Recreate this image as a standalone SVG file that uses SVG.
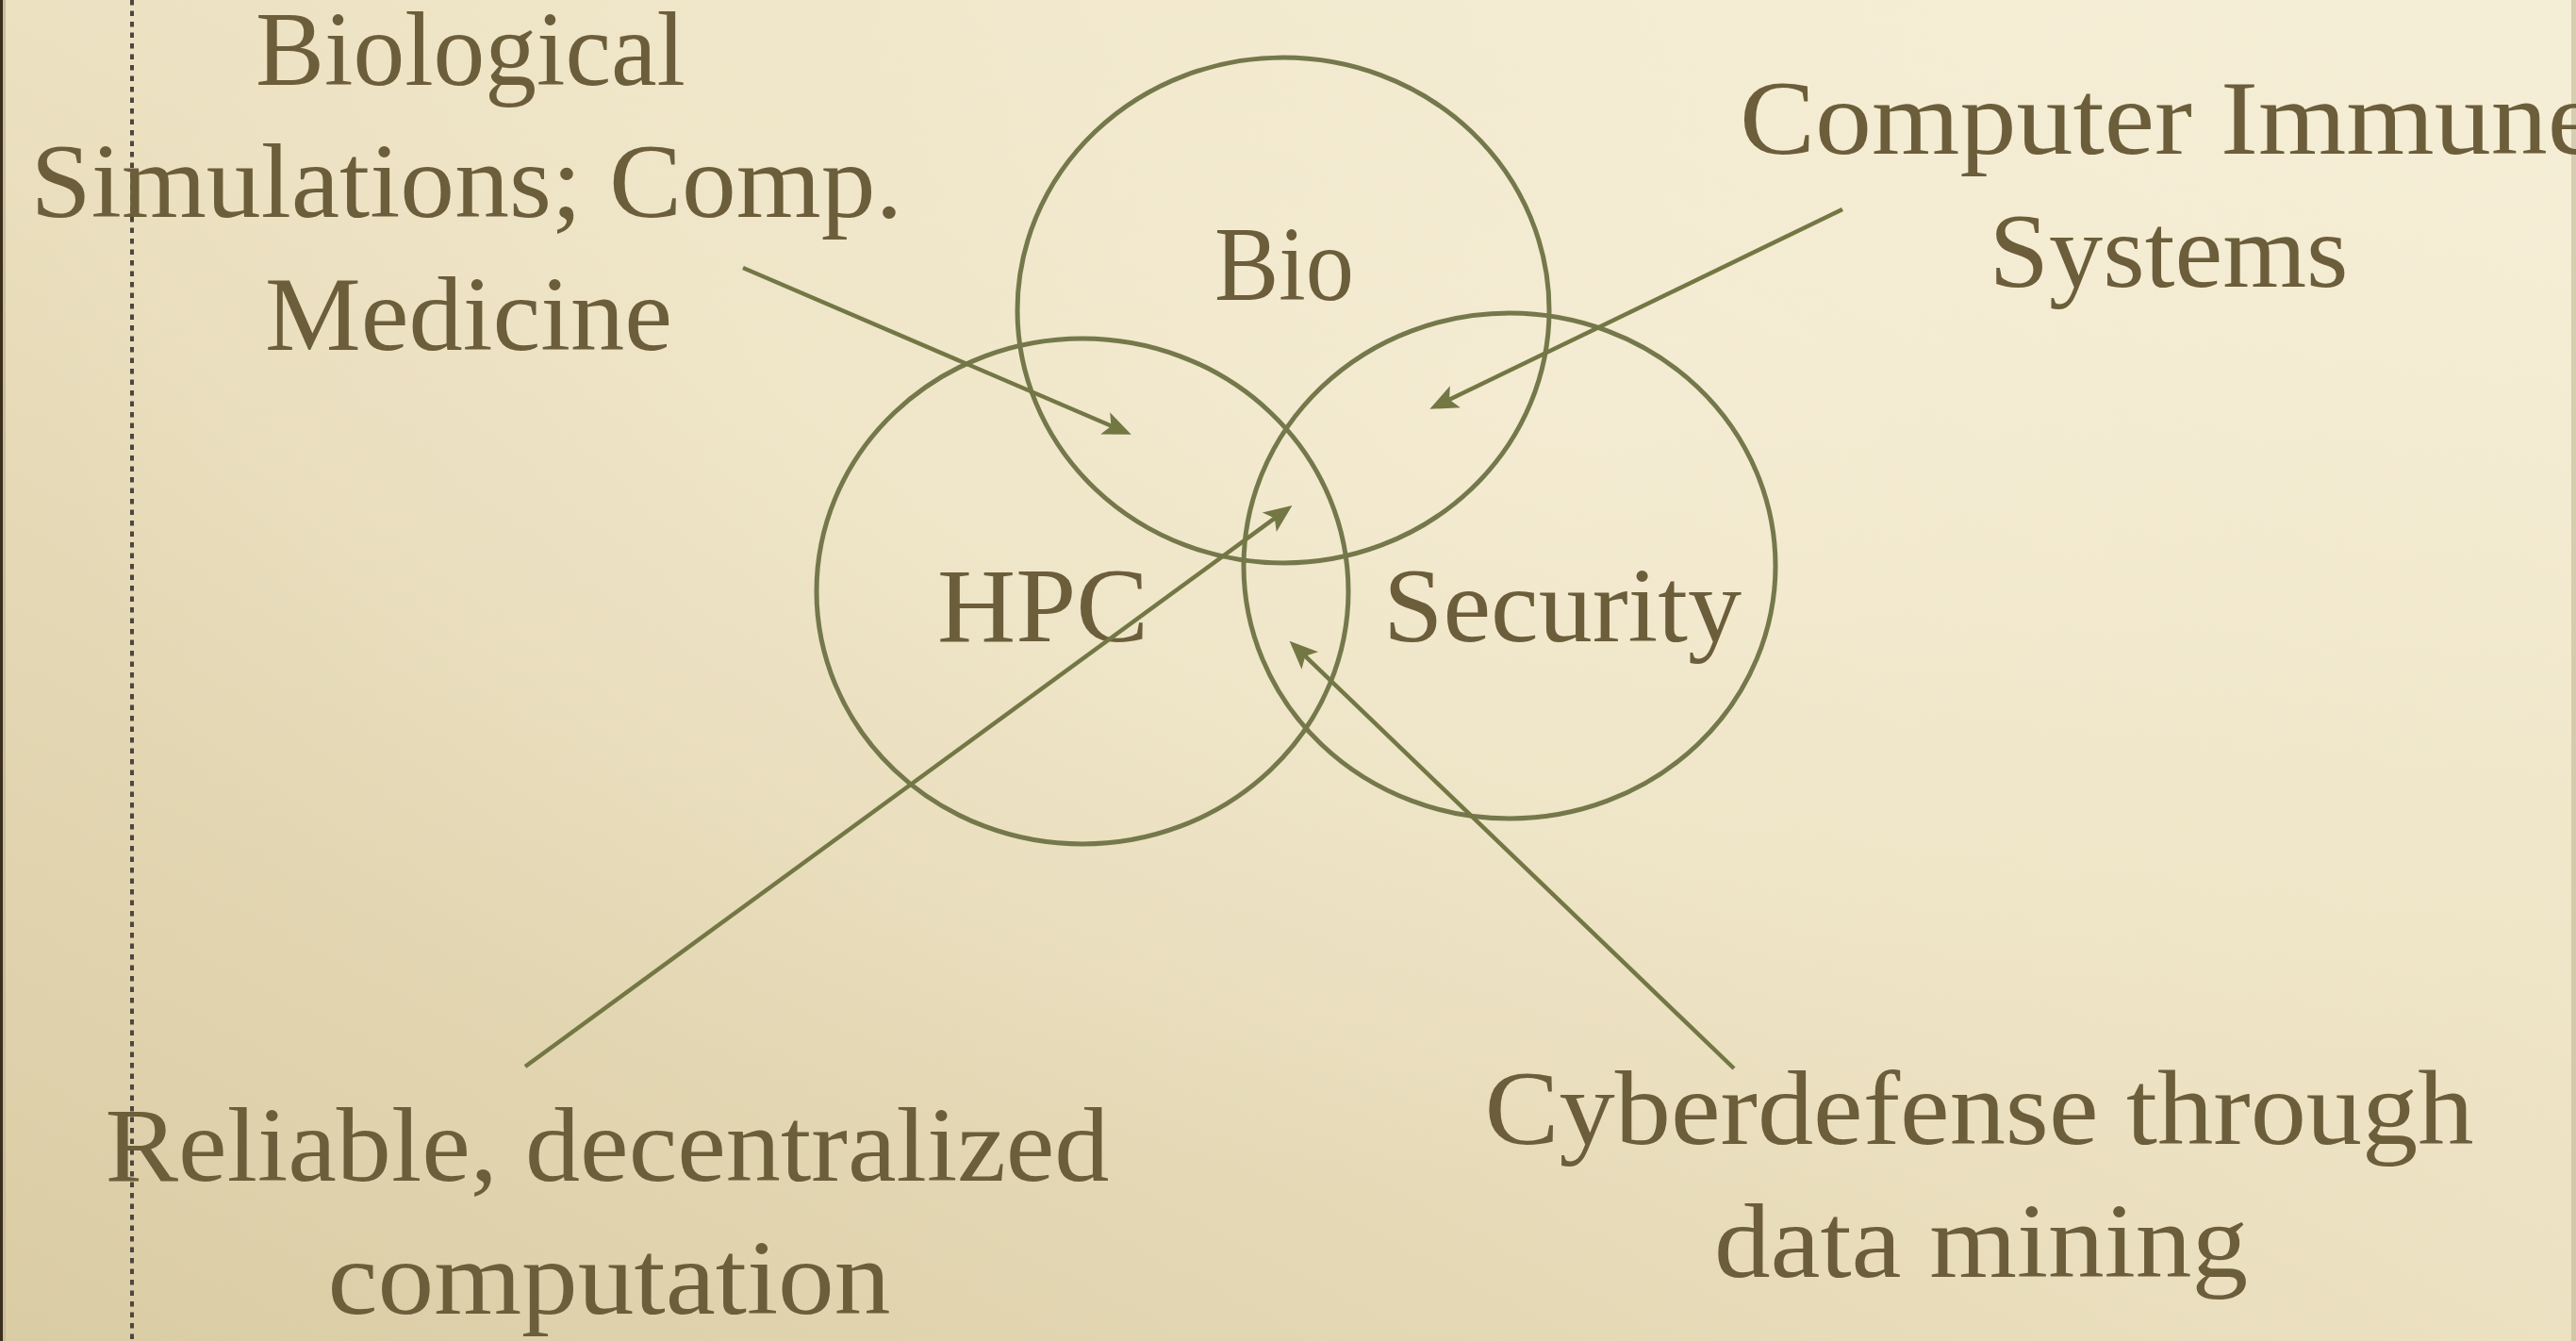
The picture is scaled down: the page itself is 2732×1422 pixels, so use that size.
<svg xmlns="http://www.w3.org/2000/svg" width="2732" height="1422" viewBox="0 0 2732 1422">
  <defs>
    <!-- parchment background: light at the top right, deeper towards the bottom left -->
    <linearGradient id="paper" x1="1" y1="0" x2="0" y2="1">
      <stop offset="0" stop-color="#f5eed6"/>
      <stop offset="0.5" stop-color="#ece1c1"/>
      <stop offset="1" stop-color="#dacca4"/>
    </linearGradient>
    <radialGradient id="glow" cx="0.6" cy="0.3" r="0.6">
      <stop offset="0" stop-color="#fbf5e2" stop-opacity="0.4"/>
      <stop offset="1" stop-color="#fbf5e2" stop-opacity="0"/>
    </radialGradient>
    <!-- notched arrowhead; its tip sits 12 units past the line end -->
    <marker id="head" markerUnits="userSpaceOnUse" markerWidth="40" markerHeight="30"
            viewBox="-16 -13 30 26" refX="0" refY="0" orient="auto" overflow="visible">
      <path d="M12,0 L-14,-11 L-8,0 L-14,11 Z" fill="#737744"/>
    </marker>
  </defs>
  <style>
    .ring { fill: none; stroke: #74784a; stroke-width: 5; }
    .link { fill: none; stroke: #737744; stroke-width: 4.5; marker-end: url(#head); }
    .label { font-family: "Liberation Serif", "Times New Roman", serif; font-size: 112px; fill: #6c5e3b; text-anchor: middle; }
  </style>

  <!-- page -->
  <rect x="0" y="0" width="2732" height="1422" fill="url(#paper)"/>
  <rect x="0" y="0" width="2732" height="1422" fill="url(#glow)"/>
  <rect x="0" y="0" width="3" height="1422" fill="#3a2e1c"/>
  <rect x="3" y="0" width="3" height="1422" fill="#c9bd9c"/>
  <rect x="2727" y="0" width="5" height="1422" fill="#b9ad8b" opacity="0.5"/>
  <line x1="140" y1="0" x2="140" y2="1422" stroke="#4d463f" stroke-width="4" stroke-dasharray="5.5 6"/>

  <!-- three overlapping sets -->
  <g id="bio">
    <ellipse class="ring" cx="1361" cy="329" rx="282" ry="268"/>
    <text class="label" x="1362" y="318" textLength="148" lengthAdjust="spacingAndGlyphs">Bio</text>
  </g>
  <g id="hpc">
    <ellipse class="ring" cx="1148" cy="627" rx="282" ry="268"/>
    <text class="label" x="1106" y="680" textLength="224" lengthAdjust="spacingAndGlyphs">HPC</text>
  </g>
  <g id="security">
    <ellipse class="ring" cx="1601" cy="600" rx="282" ry="268"/>
    <text class="label" x="1657" y="680" textLength="380" lengthAdjust="spacingAndGlyphs">Security</text>
  </g>

  <!-- callout labels -->
  <g id="bio-sim">
    <text class="label" x="499" y="90" textLength="456" lengthAdjust="spacingAndGlyphs">Biological</text>
    <text class="label" x="495" y="230" textLength="925" lengthAdjust="spacingAndGlyphs">Simulations; Comp.</text>
    <text class="label" x="497" y="371" textLength="432" lengthAdjust="spacingAndGlyphs">Medicine</text>
  </g>
  <g id="immune">
    <text class="label" x="1845" y="163" textLength="910" lengthAdjust="spacingAndGlyphs" style="text-anchor:start">Computer Immune</text>
    <text class="label" x="2300" y="304" textLength="381" lengthAdjust="spacingAndGlyphs">Systems</text>
  </g>
  <g id="reliable">
    <text class="label" x="644" y="1252" textLength="1065" lengthAdjust="spacingAndGlyphs">Reliable, decentralized</text>
    <text class="label" x="646" y="1393" textLength="597" lengthAdjust="spacingAndGlyphs">computation</text>
  </g>
  <g id="cyber">
    <text class="label" x="2099" y="1213" textLength="1049" lengthAdjust="spacingAndGlyphs">Cyberdefense through</text>
    <text class="label" x="2101" y="1354" textLength="566" lengthAdjust="spacingAndGlyphs">data mining</text>
  </g>

  <!-- pointers from the callouts into the overlaps -->
  <g id="connectors">
    <line class="link" x1="788" y1="284" x2="1187" y2="455.3"/>
    <line class="link" x1="1954" y1="222" x2="1528.8" y2="427.8"/>
    <line class="link" x1="557" y1="1131" x2="1359.3" y2="544.1"/>
    <line class="link" x1="1839" y1="1133" x2="1377.6" y2="689.3"/>
  </g>
</svg>
